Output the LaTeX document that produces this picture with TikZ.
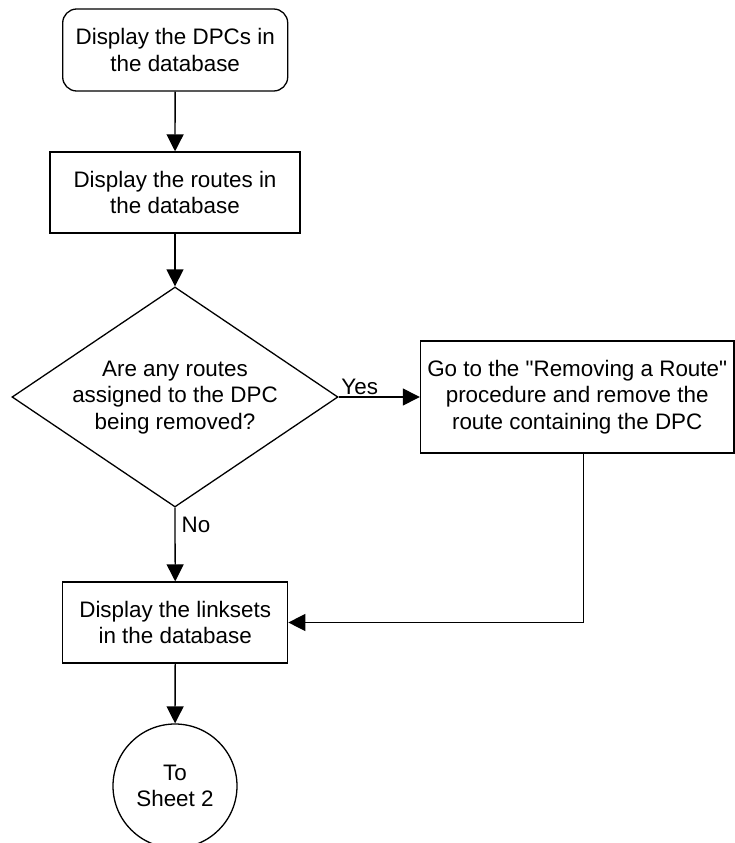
\documentclass[tikz,border=0pt]{standalone}
\usepackage{fontspec}
\setmainfont{Liberation Sans}[Ligatures=TeXOff]
\usetikzlibrary{shapes.geometric,arrows.meta}
\begin{document}
\begin{tikzpicture}[x=1pt,y=-1pt,
  every node/.style={font=\fontsize{22.4}{26.5}\selectfont, align=center, inner sep=0pt},
  shapeline/.style={draw, line width=1.3pt},
  procbox/.style={shapeline, minimum width=#1, minimum height=81pt},
  startbox/.style={shapeline, rounded corners=14pt, minimum width=225pt, minimum height=82pt},
  decision/.style={shapeline, diamond, minimum width=326pt, minimum height=220pt},
  connector/.style={shapeline, circle, minimum size=124pt},
  conn/.style={line width=1.3pt, -{Triangle[length=17pt,width=17pt]}}]
\useasboundingbox (0,0) rectangle (735,843);

\node[startbox] (start) at (175.2,50) {Display the DPCs in\\the database};
\node[procbox=250pt] (routes) at (175,192.5) {Display the routes in\\the database};
\node[decision] (dec) at (175,397) {};
\node (dectext) at (175,397.5) {Are any routes\\assigned to the DPC\\being removed?};
\node[procbox=313.5pt, minimum height=112pt] (remove) at (577.2,397) {Go to the "Removing a Route"\\procedure and remove the\\route containing the DPC};
\node[procbox=225pt] (links) at (175.2,622.5) {Display the linksets\\in the database};
\node[connector] (sheet) at (175,786) {To\\Sheet 2};

\draw[conn] (start) -- (routes);
\draw[conn] (routes) -- (dec.north);
\draw[conn] (dec.east) -- node[pos=0.26, above, yshift=2pt] {Yes} (remove.west);
\draw[conn] (dec.south) -- node[pos=0.24, anchor=west, xshift=6pt] {No} (links.north);
\draw[conn] ([xshift=6pt]remove.south) |- (links.east);
\draw[conn] (links) -- (sheet);
\end{tikzpicture}
\end{document}
